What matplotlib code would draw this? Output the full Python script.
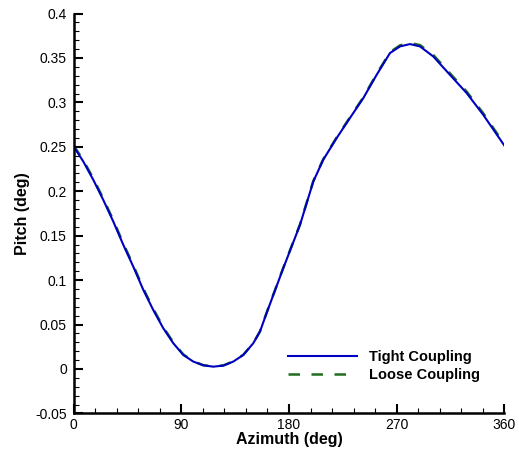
import matplotlib
matplotlib.use('Agg')
import matplotlib.pyplot as plt
from matplotlib.ticker import MultipleLocator

plt.rcParams['font.family'] = ['Liberation Sans', 'DejaVu Sans']

# Valores
azimuth = [0, 8.0, 16.4, 24.7, 33.1, 41.5, 49.8, 58.2, 66.5, 74.9, 83.3, 91.6,
           100.0, 108.3, 116.7, 125.1, 133.4, 141.8, 150.1, 155.7, 161.3, 175.2,
           189.2, 200.3, 208.6, 219.8, 230.9, 242.1, 253.3, 264.4, 272.8, 281.1,
           289.5, 300.6, 314.5, 328.5, 342.4, 360.0]
pitch_tight = [0.2503, 0.2335, 0.2128, 0.1903, 0.1659, 0.1396, 0.1152, 0.0890,
               0.0664, 0.0458, 0.0289, 0.0158, 0.0083, 0.0041, 0.0026, 0.0038,
               0.0083, 0.0158, 0.0289, 0.0420, 0.0630, 0.1134, 0.1622, 0.2109,
               0.2354, 0.2598, 0.2823, 0.3048, 0.3311, 0.3555, 0.3630, 0.3656,
               0.3630, 0.3517, 0.3311, 0.3105, 0.2860, 0.2515]
pitch_loose = [0.2513, 0.2350, 0.2143, 0.1918, 0.1674, 0.1411, 0.1167, 0.0905,
               0.0677, 0.0470, 0.0298, 0.0164, 0.0087, 0.0043, 0.0028, 0.0040,
               0.0085, 0.0160, 0.0291, 0.0423, 0.0634, 0.1139, 0.1628, 0.2115,
               0.2360, 0.2605, 0.2831, 0.3056, 0.3320, 0.3565, 0.3642, 0.3668,
               0.3645, 0.3534, 0.3328, 0.3122, 0.2877, 0.2530]

xticks = [0, 90, 180, 270, 360]
yticks = [-0.05, 0, 0.05, 0.1, 0.15, 0.2, 0.25, 0.3, 0.35, 0.4]
ytick_labels = ['-0.05', '0', '0.05', '0.1', '0.15', '0.2', '0.25', '0.3', '0.35', '0.4']

fig = plt.figure(figsize=(5.19, 4.57), dpi=100)
ax = fig.add_axes([0.142, 0.0954, 0.8297, 0.875])

ax.plot(azimuth, pitch_tight, color='#0000c0', lw=1.5, label='Tight Coupling', zorder=2,
        solid_joinstyle='round')
ax.plot(azimuth, pitch_loose, color='#1f6e1f', lw=1.8, linestyle=(0, (4.6, 4.6)),
        label='Loose Coupling', zorder=1)

ax.set_xlim(0, 360)
ax.set_ylim(-0.05, 0.4)
ax.set_xticks(xticks)
ax.set_xticklabels([str(t) for t in xticks])
ax.set_yticks(yticks)
ax.set_yticklabels(ytick_labels)
ax.xaxis.set_minor_locator(MultipleLocator(18))
ax.yaxis.set_minor_locator(MultipleLocator(0.01))

for s in ['top', 'right']:
    ax.spines[s].set_visible(False)
for s in ['left', 'bottom']:
    ax.spines[s].set_linewidth(1.8)

ax.tick_params(which='major', direction='in', length=6.5, width=1.5, labelsize=10, pad=5)
ax.tick_params(axis='x', which='major', pad=3)
ax.tick_params(which='minor', direction='in', length=3.6, width=0.8)

ax.set_xlabel('Azimuth (deg)', fontsize=11.5, fontweight='bold', labelpad=0)
ax.set_ylabel('Pitch (deg)', fontsize=11.5, fontweight='bold', labelpad=4)

ax.legend(loc='center left', bbox_to_anchor=(0.4977, 0.119), frameon=False,
          borderpad=0, borderaxespad=0, handlelength=4.75, handletextpad=0.82,
          labelspacing=0.3, prop={'weight': 'bold', 'size': 10.5})

fig.savefig('out.png', dpi=100)
